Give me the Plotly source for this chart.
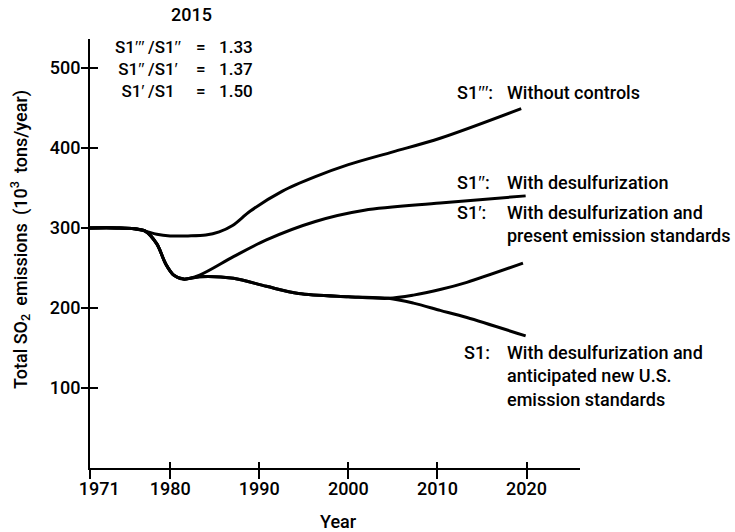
import plotly.graph_objects as go

# ---------------- data ----------------
years_s1ppp = [1971, 1974, 1976, 1977.2, 1978.5, 1980, 1982, 1984, 1985.5, 1987, 1989, 1992.6, 1996.3, 2000, 2005, 2010.3, 2019.4]
s1ppp       = [300, 300, 299, 296, 292, 290, 290, 291, 295, 303, 321, 346, 364, 379, 395, 412, 449]

years_s1pp = [1971, 1974, 1976, 1977.2, 1978.5, 1979.5, 1980.4, 1981.5, 1983.3, 1987.1, 1990.8, 1996.3, 2001.8, 2010.3, 2019.9]
s1pp       = [300, 300, 299, 296, 280, 255, 241, 236, 241, 264, 285, 308, 322, 331, 340]

years_s1p = [1971, 1974, 1976, 1977.2, 1978.5, 1979.5, 1980.4, 1981.5, 1983.3, 1987.1, 1990.8, 1994.4, 2000, 2004.5, 2007.3, 2010.3, 2013.3, 2019.6]
s1p       = [300, 300, 299, 296, 280, 255, 241, 236, 239, 237, 227, 218, 214, 212, 216, 223, 232, 256]

years_s1 = [1971, 1974, 1976, 1977.2, 1978.5, 1979.5, 1980.4, 1981.5, 1983.3, 1987.1, 1990.8, 1994.4, 2000, 2004.5, 2007.3, 2010.3, 2013.3, 2019.9]
s1       = [300, 300, 299, 296, 280, 255, 241, 236, 239, 237, 227, 218, 214, 212, 206, 197, 188, 165]

x_ticks = [1971, 1980, 1990, 2000, 2010, 2020]
x_tick_labels = ["\u2002\u20021971", "1980", "1990", "2000", "2010", "2020"]
y_ticks = [100, 200, 300, 400, 500]
y_tick_labels = ["100", "200", "300", "400", "500"]

# slanted prime marks (drawn with a font that has proper prime glyphs)
def primes(n):
    return '<span style="font-family:Liberation Sans">' + "\u2032" * n + "</span>"

S = "\u2009"
ratio_names = ["S1" + primes(3) + S + "/S1" + primes(2),
               "S1" + primes(2) + S + "/S1" + primes(1),
               "S1" + primes(1) + S + "/S1"]
ratio_values = ["1.33", "1.37", "1.50"]
ratio_year = "2015"

series_prefix = ["S1" + primes(3) + ":", "S1" + primes(2) + ":", "S1" + primes(1) + ":", "S1:"]
series_desc = ["Without controls",
               "With desulfurization",
               "With desulfurization and<br>present emission standards",
               "With desulfurization and<br>anticipated new U.S.<br>emission standards"]

x_title = "Year"
y_title = "Total SO<sub>2</sub>\u2009 emissions\u2009 (10<sup>3</sup>\u2009 tons/year)"

# ---------------- layout geometry ----------------
W, H = 735, 532
L, R, T, B = 90, 155, 39, 64
PW, PH = W - L - R, H - T - B

def px(x):
    return (x - L) / PW

def py(y):
    return (H - B - y) / PH

FONT = "Roboto, Liberation Sans, Arial, sans-serif"
WEIGHT = 500
TXT = 18
TICK = 18
LINE = dict(color="black", width=3)

fig = go.Figure()
for xs, ys in [(years_s1ppp, s1ppp), (years_s1pp, s1pp), (years_s1p, s1p), (years_s1, s1)]:
    fig.add_trace(go.Scatter(x=xs, y=ys, mode="lines", line=dict(LINE, shape="spline", smoothing=0.9),
                             showlegend=False, hoverinfo="skip"))

# invisible trace to make the overlay axes (inward half of crossing ticks) exist
fig.add_trace(go.Scatter(x=[1971], y=[0], xaxis="x2", yaxis="y2", mode="markers",
                         marker=dict(opacity=0), showlegend=False, hoverinfo="skip"))

ann = []
ann.append(dict(text=ratio_year, x=px(191), y=py(15), xanchor="center", yanchor="middle"))
# ratio block: three columns, three rows each
RB = 17
ann.append(dict(text="<br>".join(ratio_names), x=px(148), y=py(69), xanchor="center", yanchor="middle",
                align="center", font_size=RB))
ann.append(dict(text="<br>".join(["="] * 3), x=px(201), y=py(69), xanchor="center", yanchor="middle",
                align="center", font_size=RB))
ann.append(dict(text="<br>".join(ratio_values), x=px(217), y=py(69), xanchor="left", yanchor="middle",
                align="left", font_size=RB))

prefix_pos = [(455, 93), (455, 182), (455, 212), (462, 352)]
desc_pos = [(505, 93), (505, 182), (505, 223.5), (505, 376)]
for p, (x0, y0), d, (x1, y1) in zip(series_prefix, prefix_pos, series_desc, desc_pos):
    ann.append(dict(text=p, x=px(x0), y=py(y0), xanchor="left", yanchor="middle"))
    ann.append(dict(text=d, x=px(x1), y=py(y1), xanchor="left", yanchor="middle", align="left"))

# axis titles
ann.append(dict(text=x_title, x=px(338), y=py(521), xanchor="center", yanchor="middle", font_size=TICK))
ann.append(dict(text=y_title, x=px(20), y=py(240), xanchor="center", yanchor="middle", textangle=-90,
                font_size=18))

for a in ann:
    fs = a.pop("font_size", TXT)
    a.update(xref="paper", yref="paper", showarrow=False,
             font=dict(family=FONT, size=fs, color="black", weight=WEIGHT))

common_axis = dict(showgrid=False, zeroline=False, color="black", automargin=False)
tickfont = dict(family=FONT, size=TICK, color="black", weight=WEIGHT)
fig.update_layout(
    width=W, height=H,
    margin=dict(l=L, r=R, t=T, b=B, pad=0, autoexpand=False),
    paper_bgcolor="white", plot_bgcolor="white",
    font=dict(family=FONT, size=TXT, color="black"),
    annotations=ann,
    xaxis=dict(common_axis, range=[1971, 2026], tickmode="array", tickvals=x_ticks, ticktext=x_tick_labels,
               ticks="outside", ticklen=9, tickwidth=2, tickcolor="black",
               showline=True, linewidth=2, linecolor="black",
               tickfont=tickfont, ticklabelstandoff=-6),
    yaxis=dict(common_axis, range=[0, 536], tickmode="array", tickvals=y_ticks, ticktext=y_tick_labels,
               ticks="outside", ticklen=7, tickwidth=2, tickcolor="black",
               showline=True, linewidth=2, linecolor="black",
               tickfont=tickfont, ticklabelstandoff=-3),
    xaxis2=dict(common_axis, overlaying="x", anchor="y", range=[1971, 2026], tickmode="array", tickvals=x_ticks,
                ticks="inside", ticklen=6, tickwidth=2, tickcolor="black", showticklabels=False, showline=False),
    yaxis2=dict(common_axis, overlaying="y", anchor="x", side="left", range=[0, 536], tickmode="array",
                tickvals=y_ticks, ticks="inside", ticklen=8, tickwidth=2, tickcolor="black",
                showticklabels=False, showline=False),
)

fig.write_html("out.html", config={"displayModeBar": False},
               post_script="document.body.style.margin='0px';")
